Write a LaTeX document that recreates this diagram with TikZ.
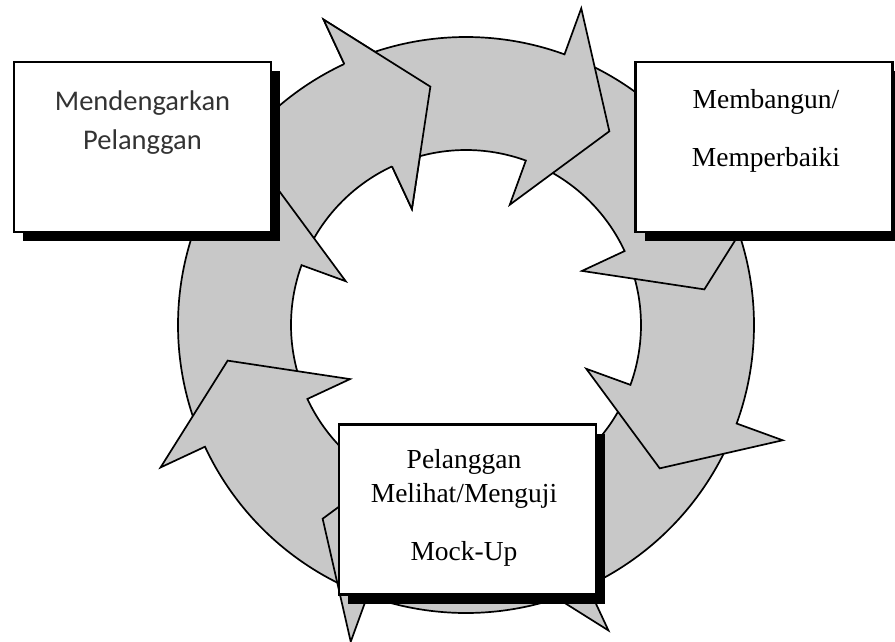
\documentclass[tikz,border=0pt]{standalone}
\usepackage{fontspec}
\newfontfamily\boxsans{Carlito}
\newfontfamily\boxserif{Liberation Serif}
\usetikzlibrary{shadows}
\definecolor{ringgray}{RGB}{200,200,200}
\newcommand\ringarrow[1]{%
  \draw[seg] ({#1+42}:175pt) arc[start angle={#1+42}, end angle={#1}, radius=175pt]
    -- (#1:128pt) -- ({#1-16.5}:241pt) -- (#1:337pt) -- (#1:288pt)
    arc[start angle={#1}, end angle={#1+42}, radius=288pt] -- cycle;}
\begin{document}
\begin{tikzpicture}[x=1pt,y=1pt,
  seg/.style={fill=ringgray, draw=black, line width=1.7pt, line join=miter},
  boxshape/.style={draw=black, line width=2.2pt, fill=white, inner sep=0pt,
    minimum width=257pt, minimum height=170pt,
    general shadow={fill=black, shadow xshift=9pt, shadow yshift=-9pt}},
  sanstxt/.style={anchor=base, inner sep=0pt, text=black!80,
    font=\boxsans\fontsize{28.5}{33}\selectfont},
  seriftxt/.style={anchor=base, inner sep=0pt, text=black,
    font=\boxserif\fontsize{27.5}{32}\selectfont}]
\useasboundingbox (0,0) rectangle (895,-641);
\fill[white] (0,0) rectangle (895,-641);
\begin{scope}[shift={(466,-325)}]
  \ringarrow{115}
  \ringarrow{160}
  \ringarrow{-155}
  \ringarrow{-110}
  \ringarrow{-65}
  \ringarrow{-20}
  \ringarrow{25}
  \ringarrow{70}
  % head of the first arrow again, over the tail of the next one
  \fill[ringgray] (115:128pt) -- (98.5:241pt) -- (115:337pt) -- cycle;
  \draw[seg, fill=none] (115:288pt) -- (115:337pt) -- (98.5:241pt) -- (115:128pt) -- (115:175pt);
\end{scope}
% boxes
\node[boxshape] (listen) at (142.5,-147) {};
\node[boxshape] (build) at (764,-147) {};
\node[boxshape] (test) at (467.5,-509.5) {};
% texts
\node[sanstxt] (listen1) at (142.5,-110) {Mendengarkan};
\node[sanstxt] (listen2) at (142.5,-149) {Pelanggan};
\node[seriftxt] (build1) at (766,-108) {Membangun/};
\node[seriftxt] (build2) at (766,-166) {Memperbaiki};
\node[seriftxt] (test1) at (464,-468) {Pelanggan};
\node[seriftxt] (test2) at (464,-502) {Melihat/Menguji};
\node[seriftxt] (test3) at (464,-560) {Mock-Up};
\end{tikzpicture}
\end{document}
